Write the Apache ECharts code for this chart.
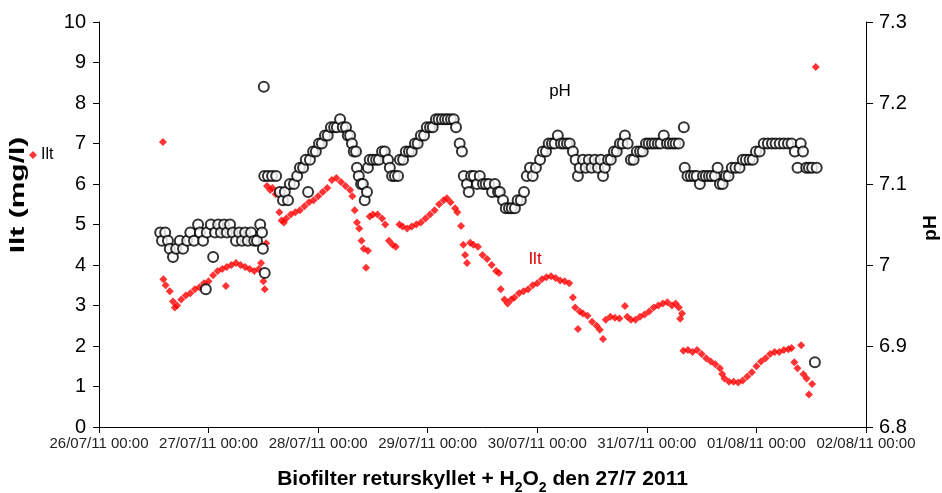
<!DOCTYPE html>
<html>
<head>
<meta charset="utf-8">
<script src="https://cdn.jsdelivr.net/npm/echarts@6/dist/echarts.min.js"></script>
<style>
html,body{margin:0;padding:0;background:#fff;}
#chart{width:942px;height:493px;}
</style>
</head>
<body>
<div id="chart"></div>
<script>
// X axis tick labels (one per day, hours 0..168 from 26/07/11 00:00)
const xTickLabels = ['26/07/11 00:00','27/07/11 00:00','28/07/11 00:00','29/07/11 00:00','30/07/11 00:00','31/07/11 00:00','01/08/11 00:00','02/08/11 00:00'];

// Ilt (mg/l): time in hours since 26/07/11 00:00, and values
const iltHours = [14.0,14.1,14.6,15.5,16.2,16.6,17.1,18,19,20,21,22,23,24,25,26,27,27.8,28,29,30,31,32,33,34,35,35.5,36,36.3,36.6,
36.8,37.5,38,38.7,39.5,40,40.5,41,42,43,44,45,46,47,48,49,50,51,52,53,54,55,55.5,56,56.5,57,57.5,58,58.5,58.9,
59.3,60,61,62,62.7,63.5,64.3,65,65.8,66.5,67.5,68.5,69.5,70.5,71.5,72.5,73.5,74.5,75.5,76.2,77,78,78.5,79.3,79.8,80.2,80.6,
81.3,82,83,84,85,86,87,87.6,88,88.8,89.5,90.3,91,92,93,94,95,96,97,98,99,100,101,102,103,103.8,104.3,104.9,105.3,106,107,108,109,109.7,110.4,
111,112,113,114,115.2,115.7,116.5,117.5,118.5,119.5,120.5,121.5,122.5,123.5,124.5,125.5,126.3,127,127.3,127.7,
128,129,130,131,132,133,134,135,136,136.5,137,138,139,140,141,142,143,144,145,146,147,148,149,150,151,151.7,152.3,153,153.8,154.3,155,155.5,156.2,157];
const iltValues = [7.04,3.65,3.5,3.35,3.1,2.95,3.0,3.15,3.25,3.3,3.4,3.45,3.55,3.6,3.75,3.85,3.9,3.48,3.95,4.0,4.05,4.0,3.95,3.9,3.85,3.9,4.05,3.6,3.4,4.54,
5.95,5.85,5.9,5.75,5.3,5.1,5.05,5.15,5.25,5.3,5.35,5.45,5.55,5.6,5.7,5.8,5.9,6.1,6.15,6.05,5.95,5.85,5.7,5.35,5.05,4.9,4.6,4.4,3.93,4.35,
5.2,5.25,5.25,5.15,5.0,4.6,4.5,4.45,5.0,4.95,4.9,4.95,5.0,5.05,5.15,5.25,5.35,5.5,5.6,5.65,5.55,5.4,5.3,4.96,4.5,4.25,4.05,
4.55,4.5,4.45,4.25,4.15,4.0,3.85,3.8,3.4,3.15,3.05,3.15,3.2,3.3,3.35,3.4,3.5,3.55,3.65,3.7,3.72,3.68,3.62,3.6,3.55,3.2,2.95,2.42,2.85,2.8,2.75,2.6,2.5,2.4,2.17,
2.65,2.72,2.7,2.68,2.99,2.72,2.65,2.65,2.72,2.78,2.85,2.95,3.0,3.05,3.08,3.0,3.05,2.95,2.67,2.8,
1.88,1.9,1.85,1.9,1.8,1.7,1.62,1.55,1.45,1.31,1.2,1.12,1.12,1.1,1.15,1.25,1.35,1.5,1.62,1.7,1.8,1.85,1.85,1.9,1.92,1.95,1.6,1.45,2.02,1.3,1.2,0.8,1.06,8.89];

// pH: time in hours since 26/07/11 00:00, and values
const phHours = [13.4,13.8,14.5,15.1,15.5,16.2,16.9,17.7,18.4,19.3,20,20.8,21.7,22.1,22.8,23.4,23.6,24.5,25,25.4,26.1,26.7,27.4,28,28.7,29.3,30,30.7,31.3,32,32.6,33.3,34,34.6,35.3,35.7,35.9,36.1,36.3,
36.2,37,37.9,38.8,39.6,40.3,40.7,41.4,41.8,42.7,43.4,44,44.7,45.3,45.8,46.2,46.9,47.5,48.2,48.8,49.5,50.1,50.8,51.5,52.1,52.8,53.4,54.1,54.5,55,55.4,55.8,56.3,56.5,56.9,57.4,57.8,58.2,58.7,
58.9,59.3,60,60.7,61.3,62,62.6,63.3,63.7,64.2,64.8,65.5,65.9,66.6,67.2,67.9,68.5,69.2,69.8,70.5,71.2,71.8,72.5,73.1,73.8,74.4,75.1,75.8,76.4,77.1,77.7,78.2,79,79.5,79.9,80.6,81,
81.5,82.1,82.8,83.4,84.1,84.7,85.4,86.1,86.7,87.4,87.8,88.5,89.1,89.8,90.4,91.1,91.7,92.4,93.1,93.7,94.4,95,95.7,96.6,97.2,97.9,98.5,99.2,99.8,100.5,101.2,101.8,102.5,103.1,103.8,104.4,104.9,
105.3,106,106.6,107.3,107.9,108.6,109.3,109.9,110.4,110.8,111.5,112.1,112.8,113.4,114.1,114.7,115.2,115.8,116.5,117.1,117.8,118.5,119.1,119.8,120.4,121.1,121.7,122.4,123,123.7,124.4,125,125.7,126.3,127,
128.1,128.3,128.9,129.6,130.3,130.9,131.6,132.3,132.9,133.6,134.2,134.9,135.5,136,136.6,137.3,137.9,138.6,139.4,140.3,141,141.7,142.5,143.2,143.9,144.7,145.6,146.5,147.4,148.2,149.1,150,150.9,151.7,
152.4,153,153.7,154.2,154.9,155.5,156.2,156.8,157.2];
const phValues = [7.04,7.03,7.04,7.03,7.02,7.01,7.02,7.03,7.02,7.03,7.04,7.03,7.05,7.04,7.03,6.97,7.04,7.05,7.01,7.04,7.05,7.04,7.05,7.04,7.05,7.04,7.03,7.04,7.03,7.04,7.03,7.04,7.03,7.03,7.05,7.04,7.02,7.22,6.99,
7.11,7.11,7.11,7.11,7.09,7.08,7.09,7.08,7.10,7.10,7.11,7.12,7.12,7.13,7.09,7.13,7.14,7.14,7.15,7.15,7.16,7.16,7.17,7.17,7.17,7.18,7.17,7.17,7.16,7.16,7.15,7.14,7.14,7.12,7.11,7.10,7.10,7.08,7.09,
7.12,7.13,7.13,7.13,7.13,7.14,7.14,7.13,7.12,7.11,7.11,7.11,7.13,7.13,7.14,7.14,7.14,7.15,7.15,7.16,7.16,7.17,7.17,7.17,7.18,7.18,7.18,7.18,7.18,7.18,7.18,7.17,7.15,7.14,7.11,7.10,7.09,
7.11,7.11,7.10,7.11,7.10,7.10,7.10,7.09,7.10,7.09,7.09,7.08,7.07,7.07,7.07,7.07,7.08,7.08,7.09,7.11,7.12,7.11,7.12,7.13,7.14,7.14,7.15,7.15,7.15,7.16,7.15,7.15,7.15,7.15,7.14,7.13,7.11,
7.12,7.13,7.12,7.13,7.12,7.13,7.12,7.13,7.11,7.12,7.13,7.13,7.14,7.14,7.15,7.15,7.16,7.15,7.13,7.13,7.14,7.14,7.14,7.15,7.15,7.15,7.15,7.15,7.15,7.16,7.15,7.15,7.15,7.15,7.15,
7.17,7.12,7.11,7.11,7.11,7.11,7.10,7.11,7.11,7.11,7.11,7.11,7.12,7.10,7.10,7.11,7.11,7.12,7.12,7.12,7.13,7.13,7.13,7.13,7.14,7.14,7.15,7.15,7.15,7.15,7.15,7.15,7.15,7.15,
7.14,7.12,7.15,7.14,7.12,7.12,7.12,6.88,7.12];

const FONT = '"Liberation Sans", Arial, sans-serif';
const chart = echarts.init(document.getElementById('chart'), null, {renderer: 'canvas'});

const option = {
  backgroundColor: '#fff',
  animation: false,
  textStyle: {fontFamily: FONT, color: '#000'},
  grid: {left: 99, right: 76, top: 22, bottom: 66, containLabel: false, outerBoundsMode: 'none'},
  legend: {
    data: [{name: 'Ilt', icon: 'diamond'}],
    left: 24, top: 142,
    itemWidth: 8, itemHeight: 8, itemGap: 4,
    textStyle: {fontFamily: FONT, fontSize: 16, color: '#000', padding: [0,0,0,-1]}
  },
  xAxis: {
    type: 'value', min: 0, max: 168, interval: 24,
    name: '{b|Biofilter returskyllet + H}{s|2}{b|O}{s|2}{b| den 27/7 2011}',
    nameLocation: 'middle', nameGap: 39,
    nameTextStyle: {
      rich: {
        b: {fontFamily: FONT, fontSize: 21, fontWeight: 'bold', color: '#000', lineHeight: 24, verticalAlign: 'bottom'},
        s: {fontFamily: FONT, fontSize: 14, fontWeight: 'bold', color: '#000', lineHeight: 24, verticalAlign: 'bottom', padding: [0,0,-5,0]}
      }
    },
    axisLine: {lineStyle: {color: '#000', width: 1}},
    axisTick: {length: 6, lineStyle: {color: '#000'}},
    splitLine: {show: false},
    axisLabel: {
      fontFamily: FONT, fontSize: 15, color: '#222', margin: 9,
      showMinLabel: true, showMaxLabel: true,
      formatter: v => xTickLabels[Math.round(v / 24)]
    }
  },
  yAxis: [
    {
      type: 'value', min: 0, max: 10, interval: 1, position: 'left',
      axisLine: {show: true, lineStyle: {color: '#000', width: 1}},
      axisTick: {show: true, length: 6, lineStyle: {color: '#000'}},
      splitLine: {show: false},
      axisLabel: {fontFamily: FONT, fontSize: 20, color: '#000', margin: 13}
    },
    {
      type: 'value', min: 6.8, max: 7.3, interval: 0.1, position: 'right',
      axisLine: {show: true, lineStyle: {color: '#000', width: 1}},
      axisTick: {show: true, length: 7, lineStyle: {color: '#000'}},
      splitLine: {show: false},
      axisLabel: {fontFamily: FONT, fontSize: 20, color: '#000', margin: 13,
        formatter: v => String(Number(v.toFixed(1)))}
    }
  ],
  graphic: [
    {type: 'text', x: 18, y: 195, rotation: Math.PI / 2, scaleX: 1.5,
      style: {text: 'Ilt (mg/l)', font: 'bold 20px ' + FONT, fill: '#000', align: 'center', verticalAlign: 'middle'}},
    {type: 'text', x: 931, y: 228, rotation: Math.PI / 2,
      style: {text: 'pH', font: 'bold 19px ' + FONT, fill: '#000', align: 'center', verticalAlign: 'middle'}},
    {type: 'text', x: 560, y: 91,
      style: {text: 'pH', font: '17px ' + FONT, fill: '#000', align: 'center', verticalAlign: 'middle'}},
    {type: 'text', x: 535, y: 259,
      style: {text: 'Ilt', font: '17px ' + FONT, fill: '#e00000', align: 'center', verticalAlign: 'middle'}}
  ],
  series: [
    {
      name: 'Ilt', type: 'scatter', yAxisIndex: 0,
      symbol: 'diamond', symbolSize: 8,
      itemStyle: {color: '#ff0000'},
      data: iltHours.map((h, i) => [h, iltValues[i]])
    },
    {
      name: 'pH', type: 'scatter', yAxisIndex: 1,
      symbol: 'circle', symbolSize: 10,
      itemStyle: {color: '#ffffff', borderColor: '#000000', borderWidth: 2},
      data: phHours.map((h, i) => [h, phValues[i]])
    }
  ]
};
chart.setOption(option);
</script>
</body>
</html>
